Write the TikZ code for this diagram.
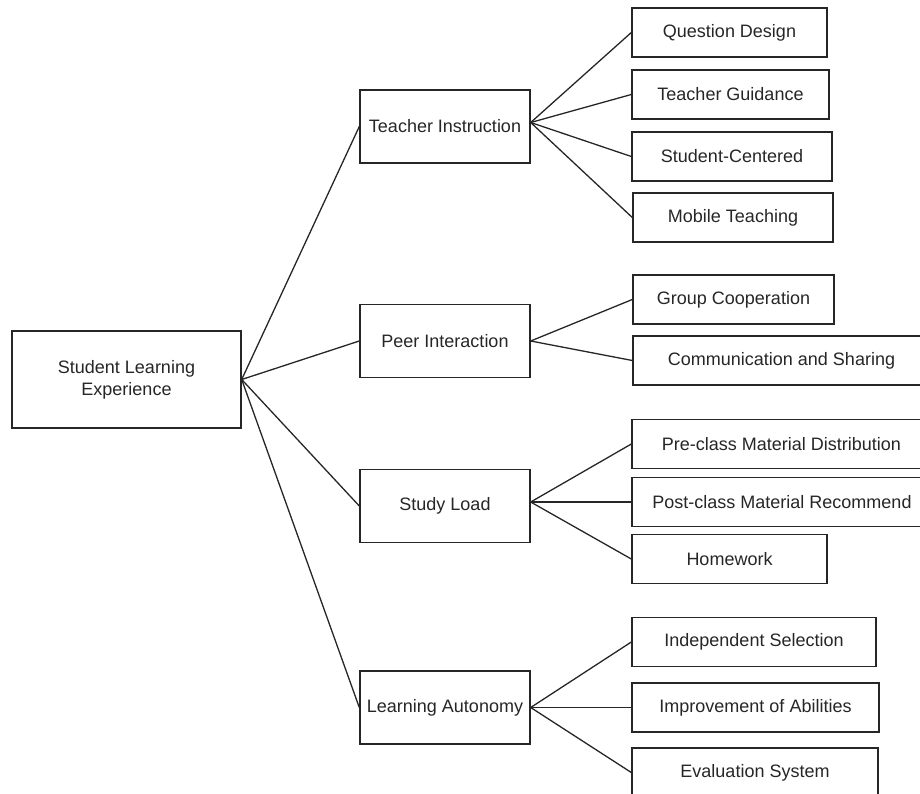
\documentclass[tikz,border=0pt]{standalone}
\usepackage{fontspec}
\setmainfont{Liberation Sans}
\usepackage{tikz}
\tikzstyle{caja} = [draw=black!85, line width=1.4pt, rectangle, inner sep=0pt, text=black!85, font=\fontsize{18}{22}\selectfont, align=center]
\tikzstyle{hoja} = [caja, minimum height=49pt]
\tikzstyle{rama} = [caja, minimum width=170pt, minimum height=73pt]
\tikzstyle{linea} = [draw=black!85, line width=1.3pt]

\begin{document}
\begin{tikzpicture}[x=1pt, y=-1pt]
	\useasboundingbox (0,0) rectangle (920,794);
	\clip (0,0) rectangle (920,794);
	\node [caja, minimum width=229pt, minimum height=97pt] (raiz) at (126.5,379.5) {Student Learning\\Experience};
	\node [rama] (docente) at (445,126.5) {Teacher Instruction};
	\node [rama] (pares) at (445,341) {Peer Interaction};
	\node [rama] (carga) at (445,506) {Study Load};
	\node [rama] (autonomia) at (445,707.5) {Learning Autonomy};
	\node [hoja, minimum width=195pt] (preguntas) at (729.5,32.5) {Question Design};
	\node [hoja, minimum width=197pt] (guia) at (730.5,94.5) {Teacher Guidance};
	\node [hoja, minimum width=200pt] (centrado) at (732,156.5) {Student-Centered};
	\node [hoja, minimum width=200pt] (movil) at (733,217.5) {Mobile Teaching};
	\node [hoja, minimum width=201pt] (grupo) at (733.5,299.5) {Group Cooperation};
	\node [hoja, minimum width=297pt] (comunicacion) at (781.5,360.5) {Communication and Sharing};
	\node [hoja, minimum width=299pt] (previo) at (781.5,444) {Pre-class Material Distribution};
	\node [hoja, minimum width=300pt] (posterior) at (782,502) {Post-class Material Recommend};
	\node [hoja, minimum width=195pt] (tarea) at (729.5,559) {Homework};
	\node [hoja, minimum width=244pt] (seleccion) at (754,642) {Independent Selection};
	\node [hoja, minimum width=247pt] (mejora) at (755.5,707.5) {Improvement of Abilities};
	\node [hoja, minimum width=246pt] (evaluacion) at (755,772.5) {Evaluation System};
	% puntos de salida
	\coordinate (sDocente) at ([yshift=4pt]docente.east);
	\coordinate (sCarga) at ([yshift=4pt]carga.east);
	% ramas principales
	\draw [linea] (raiz.east) -- (docente.west);
	\draw [linea] (raiz.east) -- (pares.west);
	\draw [linea] (raiz.east) -- (carga.west);
	\draw [linea] (raiz.east) -- (autonomia.west);
	% hojas
	\draw [linea] (sDocente) -- (preguntas.west);
	\draw [linea] (sDocente) -- (guia.west);
	\draw [linea] (sDocente) -- (centrado.west);
	\draw [linea] (sDocente) -- (movil.west);
	\draw [linea] (pares.east) -- (grupo.west);
	\draw [linea] (pares.east) -- (comunicacion.west);
	\draw [linea] (sCarga) -- (previo.west);
	\draw [linea] (sCarga) -- (posterior.west);
	\draw [linea] (sCarga) -- (tarea.west);
	\draw [linea] (autonomia.east) -- (seleccion.west);
	\draw [linea] (autonomia.east) -- (mejora.west);
	\draw [linea] (autonomia.east) -- (evaluacion.west);
\end{tikzpicture}
\end{document}
